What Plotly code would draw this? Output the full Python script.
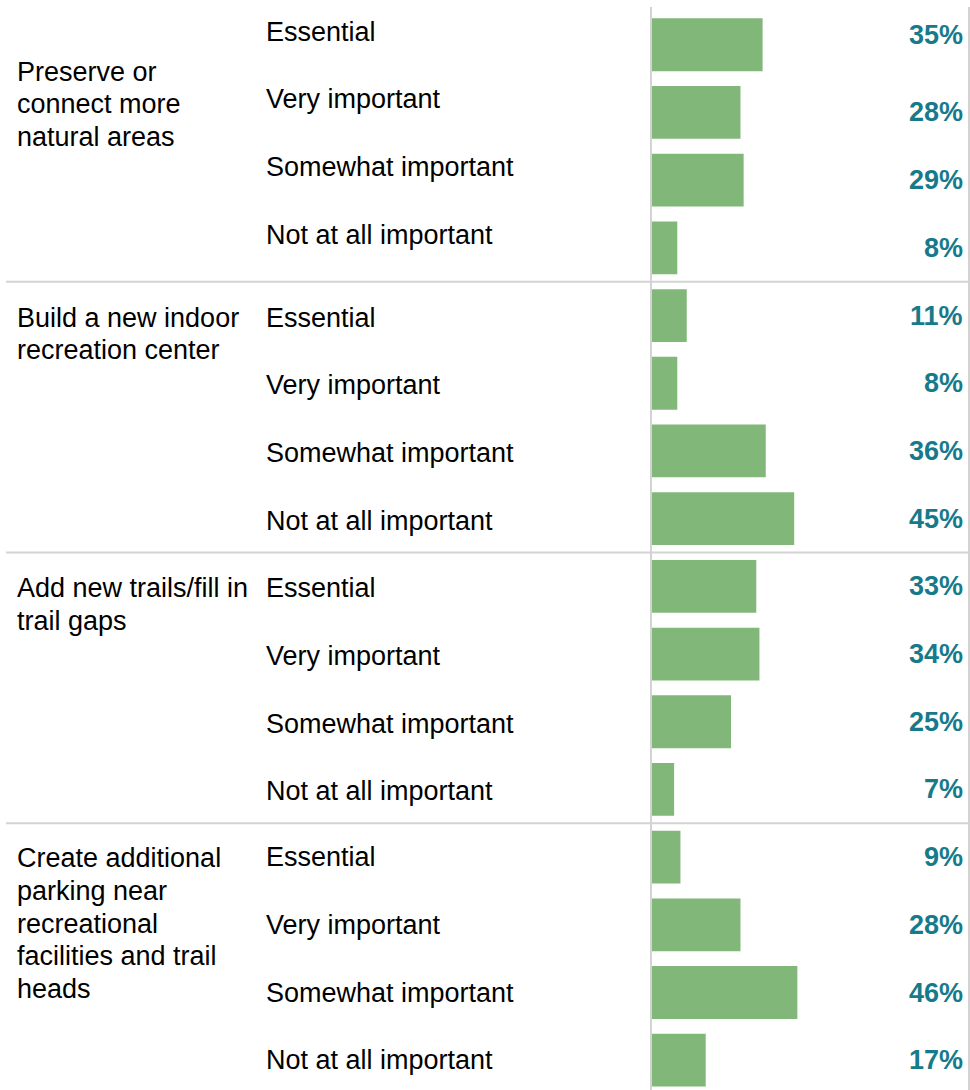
import plotly.graph_objects as go

# ---- data ----
groups = [
    "Preserve or<br>connect more<br>natural areas",
    "Build a new indoor<br>recreation center",
    "Add new trails/fill in<br>trail gaps",
    "Create additional<br>parking near<br>recreational<br>facilities and trail<br>heads",
]
levels = ["Essential", "Very important", "Somewhat important", "Not at all important"]
preserve_vals = [35, 28, 29, 8]
indoor_vals = [11, 8, 36, 45]
trails_vals = [33, 34, 25, 7]
parking_vals = [9, 28, 46, 17]
all_vals = [preserve_vals, indoor_vals, trails_vals, parking_vals]

# ---- style ----
W, H = 970, 1090
BAR = "#82b77a"
PCT = "#177a8b"
GRID = "#d3d3d3"
FONT = "Arial, Liberation Sans, sans-serif"
FS = 27
LINE_H = 32.7
x_left, x_right = 652, 968
# Tableau-like small vertical quirks of the source
level_shift = [13, -2, -2, 0]        # per group shift of level labels
pct_shift_first = [10, 0, 0, 0]      # shift of first pct label per group
group_shift = [-27, -2, -2, -1]      # first line of group label vs first row

n_lv = len(levels)
ys, xs = [], []
for g, vals in enumerate(all_vals):
    for k, v in enumerate(vals):
        ys.append(g * n_lv + k)
        xs.append(v)

fig = go.Figure(go.Bar(
    x=xs, y=ys, orientation="h", width=0.78,
    marker=dict(color=BAR, line=dict(width=0)),
    hoverinfo="skip",
))

ann = []
for g, vals in enumerate(all_vals):
    base = g * n_lv
    for i, line in enumerate(groups[g].split("<br>")):
        ann.append(dict(
            x=15 / W, xref="paper", y=base, yref="y", xanchor="left", yanchor="middle",
            text=line, showarrow=False, align="left",
            yshift=group_shift[g] - i * LINE_H,
            font=dict(family=FONT, size=FS, color="#000000"),
        ))
    for k, v in enumerate(vals):
        ann.append(dict(
            x=264 / W, xref="paper", y=base + k, yref="y", xanchor="left", yanchor="middle",
            text=levels[k], showarrow=False, yshift=level_shift[g],
            font=dict(family=FONT, size=FS, color="#000000"),
        ))
        ann.append(dict(
            x=965 / W, xref="paper", y=base + k, yref="y", xanchor="right", yanchor="middle",
            text=f"<b>{v}%</b>", showarrow=False,
            yshift=pct_shift_first[g] if k == 0 else 0,
            font=dict(family=FONT, size=FS, color=PCT),
        ))

shapes = []
for g in range(1, len(groups)):
    yv = g * n_lv - 0.5
    shapes.append(dict(type="line", xref="paper", yref="y", x0=6 / W, x1=x_right / W,
                       y0=yv, y1=yv, line=dict(color=GRID, width=2), layer="above"))

n_rows = len(groups) * n_lv
fig.update_layout(
    width=W, height=H,
    margin=dict(l=0, r=0, t=7, b=0),
    paper_bgcolor="white", plot_bgcolor="white",
    showlegend=False,
    annotations=ann, shapes=shapes,
    xaxis=dict(domain=[x_left / W, x_right / W], range=[0, 100], showgrid=False,
               zeroline=False, showticklabels=False, ticks="", showline=False),
    yaxis=dict(range=[n_rows - 0.56, -0.558], showgrid=False, zeroline=False,
               showticklabels=False, ticks="", showline=True, mirror=True,
               linecolor=GRID, linewidth=1.5),
)

fig.write_html("out.html", config={"displayModeBar": False},
               post_script="document.body.style.margin='0';")
